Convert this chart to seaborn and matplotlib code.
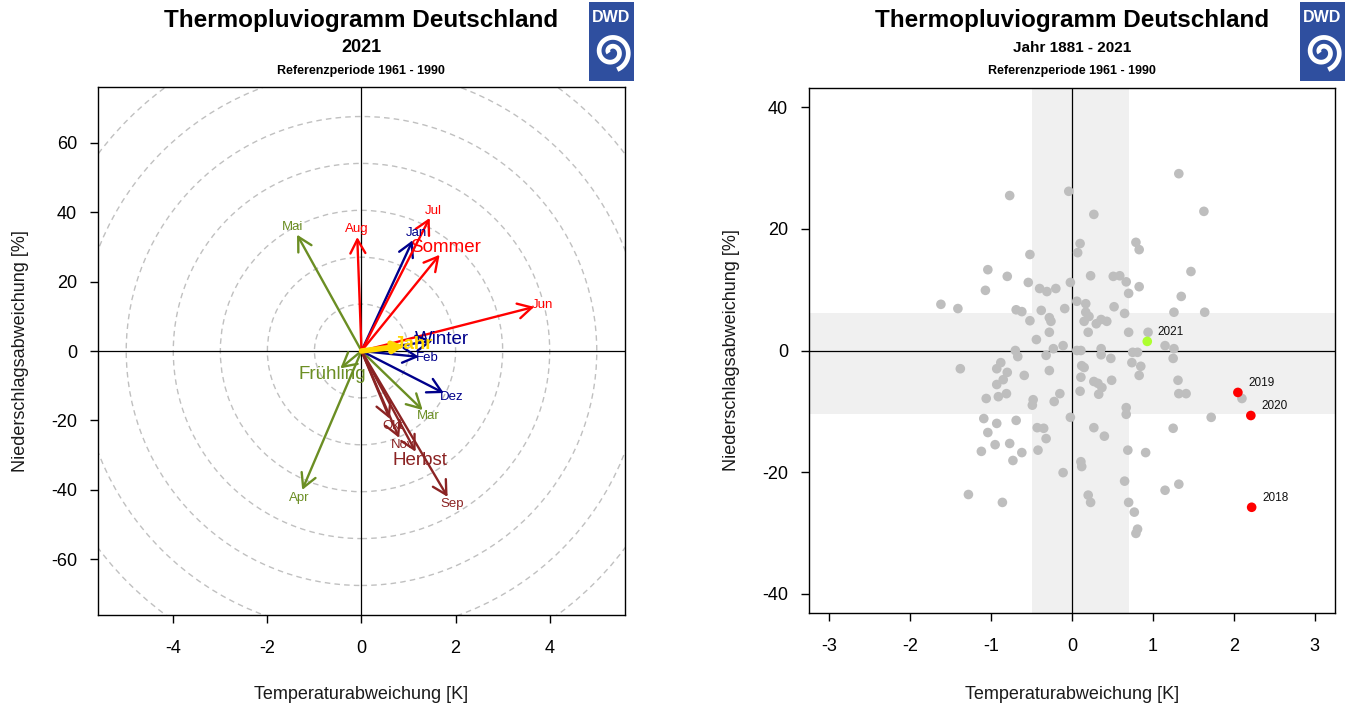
import numpy as np
import pandas as pd
import seaborn as sns
import matplotlib.pyplot as plt
from matplotlib.patches import Ellipse

# ---- left panel: 2021, months / seasons / year (deviation vs 1961-1990)
names = ['Jan', 'Feb', 'Mar', 'Apr', 'Mai', 'Jun', 'Jul', 'Aug', 'Sep', 'Okt', 'Nov', 'Dez',
         'Winter', 'Frühling', 'Sommer', 'Herbst', 'Jahr']
temp_dev = [1.09, 1.22, 1.30, -1.26, -1.37, 3.67, 1.45, -0.09, 1.83, 0.60, 0.80, 1.75,
            1.51, -0.45, 1.66, 1.15, 0.90]
prec_dev = [31.9, -1.7, -17.0, -40.0, 33.5, 12.7, 38.3, 32.8, -42.0, -19.5, -25.0, -12.1,
            2.9, -5.0, 27.7, -29.0, 1.5]
season = ['Winter', 'Winter', 'Frühling', 'Frühling', 'Frühling', 'Sommer', 'Sommer', 'Sommer',
          'Herbst', 'Herbst', 'Herbst', 'Winter',
          'Winter', 'Frühling', 'Sommer', 'Herbst', 'Jahr']

# ---- right panel: years 1881 - 2021
grey_t = [-0.77, -0.04, 0.27, 0.10, 0.07, 0.79, 0.83, -0.52, -1.04, -0.80, 0.23, 0.51, 0.59, 0.67,
          -0.54, -0.02, -1.07, -0.40, -0.31, -0.20, 0.83, 0.70, -1.62, -1.41, -0.69, -0.62, -0.38,
          -0.09, 0.06, 0.17, 0.52, 0.65, 0.17, 0.21, 0.15, 0.30, 0.36, 0.43, -0.52, -0.28, -0.26,
          -0.28, 0.20, 0.70, -0.44, -0.11, -0.70, -0.23, 0.06, 0.36, 0.94,
          -0.67, -0.32, 0.11, 0.36, 0.48, 0.75, 0.81, 0.74, 0.85, 0.83, -1.38, -0.93, -0.88, -0.80,
          -0.59, -0.28, 0.12, 0.15, 0.11, -0.85, -0.93, 0.27, 0.32, 0.37, 0.49, 0.33, 0.10, -0.15,
          -0.22, -0.48, -0.49, -0.81, -0.91, -1.06, 0.67, 0.67, -0.02, -1.09, -0.93, -0.69, 0.27,
          0.40, -0.43, -0.35, -0.32, -1.04, -0.95, -0.77, -1.12, -0.62, -0.42, -0.73, 0.69, 0.91,
          0.11, 0.12, -0.11, 0.65, -1.28, -0.86, 0.20, 0.23, 0.70, 0.77, 0.81, 0.79,
          1.15, 1.32, 1.15, 1.26, 1.25, 1.31, 1.32, 1.41, 2.10, 1.72, 1.25,
          1.32, 1.63, 1.47, 1.35, 1.26, 1.64]
grey_p = [25.5, 26.2, 22.4, 17.6, 16.1, 17.8, 16.6, 15.8, 13.3, 12.2, 12.3, 12.2, 12.3, 11.3,
          11.2, 11.2, 9.9, 10.2, 9.7, 10.2, 10.5, 9.4, 7.6, 6.9, 6.7, 6.4, 6.6,
          6.9, 8.1, 7.7, 7.2, 6.1, 6.3, 5.6, 4.8, 4.4, 5.1, 4.8, 4.9, 5.4, 4.8,
          3.0, 3.0, 3.0, 1.8, 0.8, 0.0, 0.3, 0.0, 0.3, 3.0,
          -1.0, -0.8, 0.0, -0.7, -1.3, -0.3, -0.3, -2.0, -2.6, -4.1, -3.0, -3.0, -2.0, -3.6,
          -4.1, -3.3, -2.5, -2.8, -4.4, -4.8, -5.6, -5.1, -5.4, -6.1, -4.9, -7.2, -6.7, -7.1,
          -8.4, -8.1, -9.0, -7.1, -7.6, -7.9, -9.4, -10.5, -11.0, -11.2, -12.0, -11.5, -12.7,
          -14.1, -12.7, -12.8, -14.5, -13.5, -15.5, -15.3, -16.6, -16.8, -16.4, -18.1, -16.4, -16.8,
          -18.3, -19.1, -20.1, -21.5, -23.7, -25.0, -23.8, -25.0, -25.0, -26.6, -29.4, -30.1,
          -23.0, -22.0, 0.8, 0.3, -1.3, -4.9, -7.1, -7.1, -7.9, -11.0, -12.8,
          29.1, 22.9, 13.0, 8.9, 6.3, 6.3]
hl_years = ['2018', '2019', '2020', '2021']
hl_t = [2.22, 2.05, 2.21, 0.93]
hl_p = [-25.8, -6.9, -10.7, 1.5]
hl_col = ['red', 'red', 'red', '#adff2f']

# grey bands of the reference period
band_t = (-0.49, 0.70)
band_p = (-10.5, 6.2)

season_col = {'Winter': '#00008b', 'Frühling': '#6b8e23', 'Sommer': '#ff0000',
              'Herbst': '#8b2323', 'Jahr': '#ffd700'}

sns.set_theme(style='white')
plt.rcParams['font.family'] = ['Liberation Sans', 'DejaVu Sans']
plt.rcParams['axes.edgecolor'] = 'black'
plt.rcParams['text.color'] = 'black'
plt.rcParams['axes.unicode_minus'] = False

W, H = 1345, 709
fig = plt.figure(figsize=(W / 100, H / 100), dpi=100)
ax1 = fig.add_axes([98 / W, 1 - 615 / H, 527 / W, 528 / H])
ax2 = fig.add_axes([809 / W, 1 - 613 / H, 526 / W, 525 / H])

for ax in (ax1, ax2):
    for s in ax.spines.values():
        s.set_linewidth(1.0)
        s.set_color('black')
    ax.tick_params(direction='out', length=6, width=1, color='black',
                   labelsize=13, labelcolor='black', bottom=True, left=True)
    ax.tick_params(axis='x', pad=12)
    ax.tick_params(axis='y', pad=9)

# ---------------- left panel
ax1.set_xlim(-5.6, 5.6)
ax1.set_ylim(-76, 76)
ax1.set_xticks([-4, -2, 0, 2, 4])
ax1.set_yticks([-60, -40, -20, 0, 20, 40, 60])
for k in range(1, 9):
    ax1.add_patch(Ellipse((0, 0), 2 * k, 2 * k * 13.5, fill=False, ls=(0, (4, 3)),
                          ec='#c0c0c0', lw=1, zorder=1))
ax1.axhline(0, color='black', lw=0.9, zorder=2)
ax1.axvline(0, color='black', lw=0.9, zorder=2)

origin = ax1.transData.transform((0, 0))
for n, t, p, g in zip(names, temp_dev, prec_dev, season):
    c = season_col[g]
    big = n in ('Winter', 'Frühling', 'Sommer', 'Herbst', 'Jahr')
    lw = 4 if n == 'Jahr' else 1.7
    ax1.annotate('', xy=(t, p), xytext=(0, 0),
                 arrowprops=dict(arrowstyle='->,head_length=0.55,head_width=0.3',
                                 color=c, lw=lw, shrinkA=0, shrinkB=0,
                                 mutation_scale=18 if n != 'Jahr' else 10), zorder=3)
    d = ax1.transData.transform((t, p)) - origin
    u = d / np.hypot(*d)
    off = 7.0 if big else 6.0
    ax1.annotate(n, xy=(t, p), xytext=(u[0] * off, u[1] * off), textcoords='offset points',
                 ha='center', va='center', color=c, fontsize=13.5 if big else 9.5,
                 fontweight='bold' if n == 'Jahr' else 'normal', zorder=4)

ax1.set_xlabel('Temperaturabweichung [K]', fontsize=13, color='#1a1a1a')
ax1.set_ylabel('Niederschlagsabweichung [%]', fontsize=13, color='#1a1a1a')
ax1.xaxis.set_label_coords(0.5, -0.135)
ax1.yaxis.set_label_coords(-0.13, 0.5)

# ---------------- right panel
ax2.set_xlim(-3.25, 3.25)
ax2.set_ylim(-43.2, 43.2)
ax2.set_xticks([-3, -2, -1, 0, 1, 2, 3])
ax2.set_yticks([-40, -20, 0, 20, 40])
ax2.axvspan(*band_t, color='#f0f0f0', lw=0, zorder=0)
ax2.axhspan(*band_p, color='#f0f0f0', lw=0, zorder=0)
ax2.axhline(0, color='black', lw=0.9, zorder=1)
ax2.axvline(0, color='black', lw=0.9, zorder=1)

grey = pd.DataFrame({'T': grey_t, 'P': grey_p})
sns.scatterplot(data=grey, x='T', y='P', color='#bebebe', s=48, edgecolor='none',
                ax=ax2, zorder=2)
hl = pd.DataFrame({'year': hl_years, 'T': hl_t, 'P': hl_p})
sns.scatterplot(data=hl, x='T', y='P', hue='year', palette=hl_col, s=48,
                edgecolor='none', legend=False, ax=ax2, zorder=3)
for y, t, p in zip(hl_years, hl_t, hl_p):
    ax2.annotate(y, xy=(t, p), xytext=(7.5, 6.5), textcoords='offset points',
                 ha='left', va='center', fontsize=8.5, color='#111111')

ax2.set_xlabel('Temperaturabweichung [K]', fontsize=13, color='#1a1a1a')
ax2.set_ylabel('Niederschlagsabweichung [%]', fontsize=13, color='#1a1a1a')
ax2.xaxis.set_label_coords(0.5, -0.139)
ax2.yaxis.set_label_coords(-0.132, 0.5)

# ---------------- titles
for xc, sub in ((361, '2021'), (1072, 'Jahr 1881 - 2021')):
    fig.text(xc / W, 1 - 21 / H, 'Thermopluviogramm Deutschland', ha='center', va='center',
             fontsize=17.5, fontweight='bold')
    fig.text(xc / W, 1 - 48 / H, sub, ha='center', va='center',
             fontsize=13 if sub == '2021' else 11, fontweight='bold')
    fig.text(xc / W, 1 - 71 / H, 'Referenzperiode 1961 - 1990', ha='center', va='center',
             fontsize=9, fontweight='bold')


# ---------------- DWD logos
def logo(x0):
    lax = fig.add_axes([x0 / W, 1 - 81 / H, 45 / W, 79 / H])
    lax.set_facecolor('#2f4f9f')
    lax.set_xlim(0, 45)
    lax.set_ylim(0, 79)
    lax.set_xticks([])
    lax.set_yticks([])
    for s in lax.spines.values():
        s.set_visible(False)
    lax.text(22.5, 64, 'DWD', color='white', fontsize=11.5, fontweight='bold',
             ha='center', va='center')
    th = np.linspace(0.9 * np.pi, 4.4 * np.pi, 300)
    r = 3 + 15.5 * (th - th[0]) / (th[-1] - th[0])
    lax.plot(22.5 + r * np.cos(-th), 29 + r * np.sin(-th), color='white', lw=3.4,
             solid_capstyle='butt')


logo(589)
logo(1300)

fig.savefig('out.png', dpi=100)
